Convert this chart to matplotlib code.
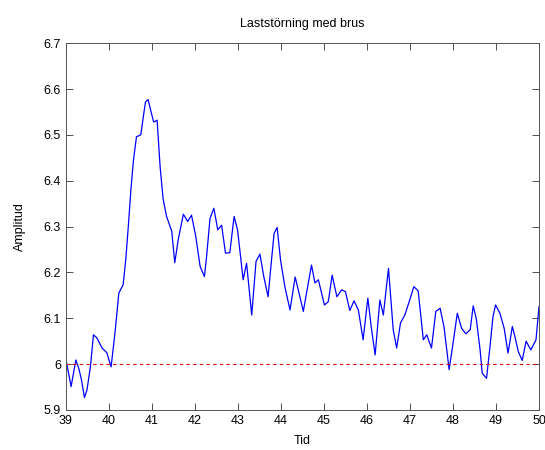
import matplotlib
matplotlib.use("Agg")
import matplotlib.pyplot as plt
from matplotlib.ticker import FuncFormatter

# Simulated output with load disturbance and measurement noise
tid = [39.00, 39.12, 39.23, 39.30, 39.36, 39.43, 39.49, 39.57, 39.64, 39.72,
       39.84, 39.95, 40.05, 40.14, 40.23, 40.33, 40.39, 40.45, 40.51, 40.57,
       40.64, 40.74, 40.80, 40.85, 40.91, 40.98, 41.04, 41.12, 41.19, 41.26,
       41.34, 41.46, 41.53, 41.61, 41.73, 41.83, 41.92, 42.02, 42.12, 42.22,
       42.27, 42.35, 42.44, 42.53, 42.62, 42.71, 42.81, 42.91, 42.99, 43.07,
       43.12, 43.20, 43.32, 43.42, 43.51, 43.60, 43.70, 43.78, 43.84, 43.91,
       43.99, 44.09, 44.21, 44.33, 44.44, 44.52, 44.60, 44.71, 44.79, 44.87,
       45.01, 45.10, 45.19, 45.30, 45.41, 45.50, 45.60, 45.70, 45.80, 45.91,
       46.02, 46.10, 46.19, 46.30, 46.38, 46.50, 46.61, 46.69, 46.78, 46.88,
       46.98, 47.09, 47.19, 47.31, 47.39, 47.50, 47.60, 47.70, 47.79, 47.91,
       47.99, 48.10, 48.20, 48.30, 48.40, 48.47, 48.54, 48.63, 48.68, 48.78,
       48.86, 48.93, 48.99, 49.09, 49.19, 49.28, 49.38, 49.44, 49.52, 49.61,
       49.70, 49.81, 49.93, 50.00]
amplitud = [6.010, 5.951, 6.009, 5.990, 5.966, 5.927, 5.944, 5.995, 6.064, 6.057,
            6.035, 6.025, 5.994, 6.068, 6.155, 6.173, 6.227, 6.300, 6.380, 6.445,
            6.496, 6.500, 6.540, 6.572, 6.577, 6.550, 6.528, 6.532, 6.430, 6.360,
            6.322, 6.290, 6.221, 6.271, 6.327, 6.311, 6.325, 6.278, 6.213, 6.191,
            6.234, 6.318, 6.340, 6.293, 6.303, 6.242, 6.243, 6.322, 6.293, 6.227,
            6.184, 6.220, 6.107, 6.224, 6.240, 6.191, 6.147, 6.227, 6.285, 6.298,
            6.227, 6.169, 6.118, 6.190, 6.147, 6.115, 6.158, 6.216, 6.177, 6.184,
            6.129, 6.136, 6.194, 6.147, 6.162, 6.158, 6.117, 6.138, 6.118, 6.053,
            6.144, 6.080, 6.020, 6.140, 6.107, 6.209, 6.075, 6.035, 6.090, 6.107,
            6.136, 6.169, 6.160, 6.053, 6.064, 6.035, 6.115, 6.122, 6.082, 5.988,
            6.038, 6.111, 6.078, 6.066, 6.075, 6.127, 6.100, 6.031, 5.980, 5.969,
            6.038, 6.104, 6.129, 6.111, 6.078, 6.024, 6.082, 6.060, 6.027, 6.008,
            6.050, 6.031, 6.053, 6.125]
referens = 6.0

x_ticks = list(range(39, 51))
y_ticks = [5.9, 6.0, 6.1, 6.2, 6.3, 6.4, 6.5, 6.6, 6.7]

plt.rcParams['font.family'] = ['Liberation Sans', 'DejaVu Sans']

fig = plt.figure(figsize=(5.45, 4.5), dpi=100)
ax = fig.add_axes([0.121, 0.089, 0.868, 0.815])

ax.plot(tid, amplitud, color=(0, 0, 1), linewidth=0.9)
ax.axhline(referens, color=(0.85, 0, 0), linestyle=(0, (3, 3)), linewidth=0.8)

ax.set_xlim(39, 50)
ax.set_ylim(5.9, 6.7)
ax.set_xticks(x_ticks)
ax.set_yticks(y_ticks)
ax.yaxis.set_major_formatter(FuncFormatter(lambda v, p: f"{v:g}"))

ax.tick_params(direction='in', top=True, right=True, length=5,
               labelsize=9, width=0.6, color='#333333')
for s in ax.spines.values():
    s.set_linewidth(0.7)
    s.set_color('#555555')

ax.set_title('Laststörning med brus', fontsize=9, pad=12)
ax.set_xlabel('Tid', fontsize=9, labelpad=6)
ax.set_ylabel('Amplitud', fontsize=9, labelpad=13)

fig.savefig('out.png', dpi=100)
